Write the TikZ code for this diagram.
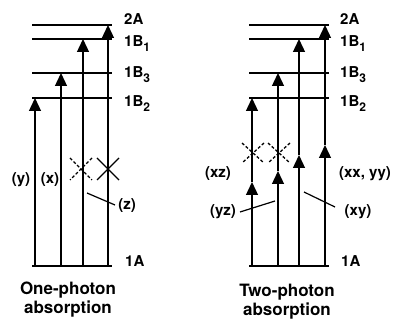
\documentclass[tikz,border=0pt]{standalone}
\usepackage{fontspec}
\setmainfont{TeX Gyre Heros}
\usetikzlibrary{arrows.meta}
\newcommand{\lsub}[1]{\raisebox{-4.5pt}{\fontsize{12}{12}\selectfont #1}}
\begin{document}
\begin{tikzpicture}[x=1pt,y=-1pt,
  levelline/.style={line width=2pt},
  trans/.style={line width=1.3pt},
  tipped/.style={trans,-{Triangle[length=13pt,width=12pt]}},
  lbl/.style={font=\fontsize{15}{15}\selectfont\bfseries, inner sep=0pt, anchor=base west},
  sel/.style={font=\fontsize{15}{15}\selectfont\bfseries, inner sep=0pt},
  capt/.style={font=\fontsize{17}{19}\selectfont\bfseries, align=center, inner sep=0pt},
  xmark/.style={line width=1.3pt},
  dxmark/.style={line width=1.3pt, dash pattern=on 3pt off 2pt},
  ptr/.style={line width=1.2pt}]
\useasboundingbox (0,0) rectangle (396,320);

% ---------- left: one-photon ----------
\foreach \n/\y in {2A/25,1Bi/39,1Biii/73,1Bii/98,1A/266}{
  \coordinate (L\n a) at (32,\y);
  \coordinate (L\n b) at (112,\y);
  \draw[levelline] (L\n a) -- (L\n b);
}
\coordinate (Lb1) at (35,266);  \coordinate (Lt1) at (35,98);
\coordinate (Lb2) at (61,266);  \coordinate (Lt2) at (61,73);
\coordinate (Lb3) at (83,266);  \coordinate (Lt3) at (83,39);
\coordinate (Lb4) at (108,266); \coordinate (Lt4) at (108,25);
\foreach \i in {1,2,3,4}{\draw[tipped] (Lb\i) -- (Lt\i);}

\node[lbl] (l2A) at (124,25) {2A};
\node[lbl] (l1B1) at (124,47) {1B\lsub{1}};
\node[lbl] (l1B3) at (124,78) {1B\lsub{3}};
\node[lbl] (l1B2) at (124,107) {1B\lsub{2}};
\node[lbl] (l1A) at (125,266) {1A};

\draw[dxmark] (70,158) -- (92,180);
\draw[dxmark] (92,158) -- (70,180);
\draw[xmark] (97,158) -- (119,180);
\draw[xmark] (119,158) -- (97,180);

\node[sel] (ly) at (21,180) {(y)};
\node[sel] (lx) at (50,180) {(x)};
\node[sel] (lz) at (127,206) {(z)};
\coordinate (lzs) at (87,193);
\coordinate (lze) at (115,205);
\draw[ptr] (lzs) -- (lze);

\node[capt] (lcap) at (68,300) {One-photon\\absorption};

% ---------- right: two-photon ----------
\foreach \n/\y in {2A/25,1Bi/39,1Biii/73,1Bii/98,1A/266}{
  \coordinate (R\n a) at (249,\y);
  \coordinate (R\n b) at (329,\y);
  \draw[levelline] (R\n a) -- (R\n b);
}
\coordinate (Rb1) at (252,266); \coordinate (Rm1) at (252,182); \coordinate (Rt1) at (252,98);
\coordinate (Rb2) at (278,266); \coordinate (Rm2) at (278,171); \coordinate (Rt2) at (278,73);
\coordinate (Rb3) at (299,266); \coordinate (Rm3) at (299,155); \coordinate (Rt3) at (299,39);
\coordinate (Rb4) at (325,266); \coordinate (Rm4) at (325,145); \coordinate (Rt4) at (325,25);
\foreach \i in {1,2,3,4}{
  \draw[tipped] (Rb\i) -- (Rm\i);
  \draw[tipped] (Rm\i) -- (Rt\i);
}

\node[lbl] (r2A) at (340,25) {2A};
\node[lbl] (r1B1) at (340,47) {1B\lsub{1}};
\node[lbl] (r1B3) at (340,78) {1B\lsub{3}};
\node[lbl] (r1B2) at (340,107) {1B\lsub{2}};
\node[lbl] (r1A) at (341,267) {1A};

\draw[dxmark] (242,143) -- (264,163);
\draw[dxmark] (264,143) -- (242,163);
\draw[dxmark] (268,143) -- (290,163);
\draw[dxmark] (290,143) -- (268,163);

\node[sel] (rxz) at (218,174) {(xz)};
\node[sel] (rxxyy) at (365,174) {(xx, yy)};
\node[sel] (ryz) at (223,212) {(yz)};
\node[sel] (rxy) at (358,212) {(xy)};
\coordinate (ryzs) at (240,212);
\coordinate (ryze) at (275,201);
\draw[ptr] (ryzs) -- (ryze);
\coordinate (rxys) at (304,192);
\coordinate (rxye) at (335,207);
\draw[ptr] (rxys) -- (rxye);

\node[capt] (rcap) at (287,302) {Two-photon\\absorption};
\end{tikzpicture}
\end{document}
